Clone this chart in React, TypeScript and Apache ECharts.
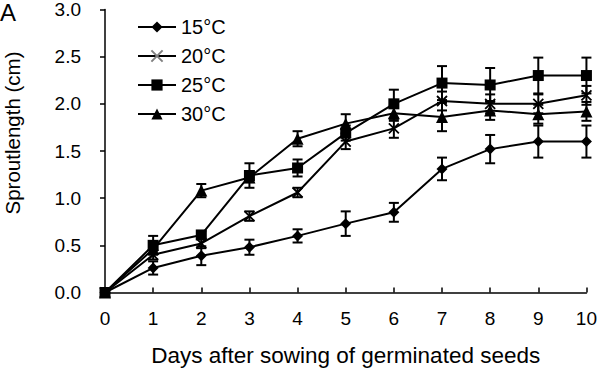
import React, { useEffect, useRef } from "react";
import * as echarts from "echarts";

const days = [0, 1, 2, 3, 4, 5, 6, 7, 8, 9, 10];
const seriesNames = ["15°C", "20°C", "25°C", "30°C"];
const t15 = [0, 0.26, 0.39, 0.48, 0.6, 0.73, 0.85, 1.31, 1.52, 1.6, 1.6];
const e15 = [0, 0.07, 0.1, 0.08, 0.07, 0.13, 0.1, 0.12, 0.15, 0.17, 0.17];
const t20 = [0, 0.4, 0.52, 0.81, 1.06, 1.6, 1.74, 2.03, 2.0, 2.0, 2.09];
const e20 = [0, 0.05, 0.05, 0.05, 0.05, 0.08, 0.1, 0.1, 0.1, 0.1, 0.1];
const t25 = [0, 0.5, 0.61, 1.24, 1.32, 1.69, 2.0, 2.22, 2.2, 2.3, 2.3];
const e25 = [0, 0.1, 0.04, 0.13, 0.09, 0.08, 0.15, 0.18, 0.18, 0.19, 0.19];
const t30 = [0, 0.46, 1.08, 1.22, 1.63, 1.79, 1.9, 1.86, 1.93, 1.89, 1.92];
const e30 = [0, 0.05, 0.07, 0.05, 0.08, 0.1, 0.08, 0.15, 0.1, 0.1, 0.1];
const yTicks = [0, 0.5, 1.0, 1.5, 2.0, 2.5, 3.0];

const FONT = "'Liberation Sans', Arial, sans-serif";

export default function App() {
  const ref = useRef<HTMLDivElement>(null);
  useEffect(() => {
    if (!ref.current) return;
    const chart = echarts.init(ref.current, null, { renderer: "svg" });
    const means = [t15, t20, t25, t30];
    const errs = [e15, e20, e25, e30];
    const symbols = [
      "diamond",
      "path://M0,0L10,10M10,0L0,10",
      "rect",
      "triangle",
    ];
    const sizes = [11, 10, 11, 12];

    const lineSeries = seriesNames.map((name, i) => ({
      name,
      type: "line",
      data: days.map((d, j) => [d, means[i][j]]),
      symbol: symbols[i],
      symbolSize: sizes[i],
      showAllSymbol: true,
      lineStyle: { color: "#000", width: 2 },
      itemStyle:
        i === 1
          ? { color: "none", borderColor: "#000", borderWidth: 1.8 }
          : { color: "#000", borderColor: "#000", borderWidth: 0 },
      z: 3,
    }));

    const errSeries = seriesNames.map((name, i) => ({
      name: name + "-err",
      type: "custom",
      data: days
        .map((d, j) => [d, means[i][j] - errs[i][j], means[i][j] + errs[i][j], errs[i][j]])
        .filter((r) => r[3] > 0),
      renderItem: (params: any, api: any) => {
        const x = api.value(0);
        const lo = api.coord([x, api.value(1)]);
        const hi = api.coord([x, api.value(2)]);
        const w = 5;
        const style = { stroke: "#000", lineWidth: 2 };
        return {
          type: "group",
          children: [
            { type: "line", shape: { x1: lo[0], y1: lo[1], x2: hi[0], y2: hi[1] }, style },
            { type: "line", shape: { x1: lo[0] - w, y1: lo[1], x2: lo[0] + w, y2: lo[1] }, style },
            { type: "line", shape: { x1: hi[0] - w, y1: hi[1], x2: hi[0] + w, y2: hi[1] }, style },
          ],
        };
      },
      z: 2,
      silent: true,
    }));

    chart.setOption({
      animation: false,
      grid: { left: 105, right: 10, top: 9, bottom: 80.5, containLabel: false },
      legend: {
        left: 132,
        top: 12,
        orient: "vertical",
        itemGap: 9,
        itemWidth: 38,
        itemHeight: 14,
        textStyle: { fontFamily: FONT, fontSize: 20, color: "#000" },
        data: [
          { name: "15°C" },
          { name: "20°C", itemStyle: { borderColor: "#808080" } },
          { name: "25°C" },
          { name: "30°C" },
        ],
      },
      xAxis: {
        type: "value",
        min: 0,
        max: 10,
        interval: 1,
        axisLine: { lineStyle: { color: "#000", width: 1.5 } },
        axisTick: { inside: true, length: 5, lineStyle: { color: "#000", width: 1.5 } },
        axisLabel: { fontFamily: FONT, fontSize: 19, color: "#000", margin: 16 },
        splitLine: { show: false },
        name: "Days after sowing of germinated seeds",
        nameLocation: "middle",
        nameGap: 51,
        nameTextStyle: { fontFamily: FONT, fontSize: 22.5, color: "#000" },
      },
      yAxis: {
        type: "value",
        min: 0,
        max: 3,
        interval: 0.5,
        axisLine: { show: true, lineStyle: { color: "#000", width: 1.5 } },
        axisTick: { show: true, inside: false, length: 5, lineStyle: { color: "#000", width: 1.5 } },
        axisLabel: {
          fontFamily: FONT,
          fontSize: 19,
          color: "#000",
          margin: 24,
          formatter: (v: number) => (yTicks.includes(v) ? v.toFixed(1) : ""),
        },
        splitLine: { show: false },
      },
      graphic: [
        {
          type: "text",
          left: 0,
          top: 0,
          style: { text: "A", fontFamily: FONT, fontSize: 24, fill: "#000" },
        },
        {
          type: "text",
          x: 2,
          y: 133,
          rotation: Math.PI / 2,
          style: {
            text: "Sproutlength (cm)",
            fontFamily: FONT,
            fontSize: 20.5,
            fill: "#000",
            align: "center",
            verticalAlign: "top",
          },
        },
      ],
      series: [...errSeries, ...lineSeries],
    });
    return () => chart.dispose();
  }, []);
  return (
    <div
      ref={ref}
      style={{ width: 600, height: 373, position: "absolute", left: 0, top: 0 }}
    />
  );
}
